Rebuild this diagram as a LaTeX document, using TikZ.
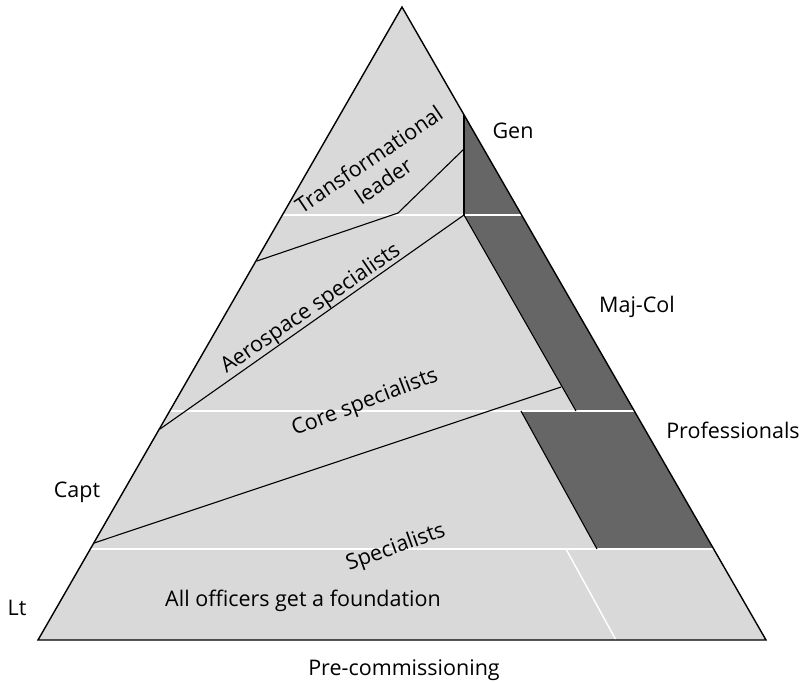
\documentclass[tikz,border=0pt]{standalone}
\usepackage{fontspec}
\setmainfont{Open Sans}
\usetikzlibrary{positioning}

\begin{document}
\begin{tikzpicture}[
        x=1pt, y=-1pt,
    rim/.style={draw=black, line width=1.1pt},
    whiteline/.style={draw=white, line width=1.4pt},
    lbl/.style={font=\fontsize{21.5}{26}\selectfont, inner sep=0pt}
]
\colorlet{lite}{black!15}
\colorlet{dark}{black!60}

    \useasboundingbox (0,0) rectangle (800,681);

    % corners and edge points
    \coordinate (top) at (402,7);
    \coordinate (bl) at (38,640);
    \coordinate (br) at (766,640);
    \coordinate (l1) at (282.4,215);
    \coordinate (r1) at (521.6,215);
    \coordinate (l2) at (169.7,411);
    \coordinate (r2) at (634.3,411);
    \coordinate (l3) at (90.3,549);
    \coordinate (r3) at (713.7,549);
    \coordinate (gen) at (464,114.8);
    \coordinate (g1) at (464,215);
    \coordinate (m2) at (576,411);
    \coordinate (p2) at (521,411);
    \coordinate (p3) at (597,549);
    \coordinate (f3) at (566,549);
    \coordinate (f4) at (616,640);

    \fill [lite] (top) -- (bl) -- (br) -- cycle;

    % dark bands
    \fill [dark] (gen) -- (g1) -- (r1) -- cycle;
    \fill [dark] (g1) -- (r1) -- (r2) -- (m2) -- cycle;
    \fill [dark] (p2) -- (r2) -- (r3) -- (p3) -- cycle;

    \draw [whiteline] (l1) -- (r1);
    \draw [whiteline] (l2) -- (r2);
    \draw [whiteline] (l3) -- (r3);
    \draw [whiteline] (f3) -- (f4);

    \draw [rim] (gen) -- (g1);
    \draw [rim] (g1) -- (m2);
    \draw [rim] (p2) -- (p3);

    % dividing lines
    \coordinate (t1) at (257,261);
    \coordinate (t2) at (398,213);
    \coordinate (t3) at (464,149);
    \coordinate (a1) at (160,429);
    \coordinate (c1) at (94,543);
    \coordinate (c2) at (561,387);
    \draw [rim] (t1) -- (t2) -- (t3);
    \draw [rim] (a1) -- (g1);
    \draw [rim] (c1) -- (c2);

    \draw [rim, line width=1.4pt] (top) -- (bl) -- (br) -- cycle;

    % labels
    \node [lbl, rotate=34, align=center] (trans) at (376,170) {Transformational\\leader};
    \node [lbl, rotate=34.5] (aero) at (311,309) {Aerospace specialists};
    \node [lbl, rotate=21] (core) at (365,403) {Core specialists};
    \node [lbl, rotate=20] (spec) at (396,548) {Specialists};
    \node [lbl] (found) at (303,601) {All officers get a foundation};

    \node [lbl] (lgen) at (513,131) {Gen};
    \node [lbl] (lmaj) at (637,307) {Maj-Col};
    \node [lbl] (lprof) at (733,430) {Professionals};
    \node [lbl] (lcapt) at (77,492) {Capt};
    \node [lbl] (llt) at (17,608) {Lt};
    \node [lbl, anchor=base] (lpre) at (404,675) {Pre-commissioning};
  \end{tikzpicture}
\end{document}
